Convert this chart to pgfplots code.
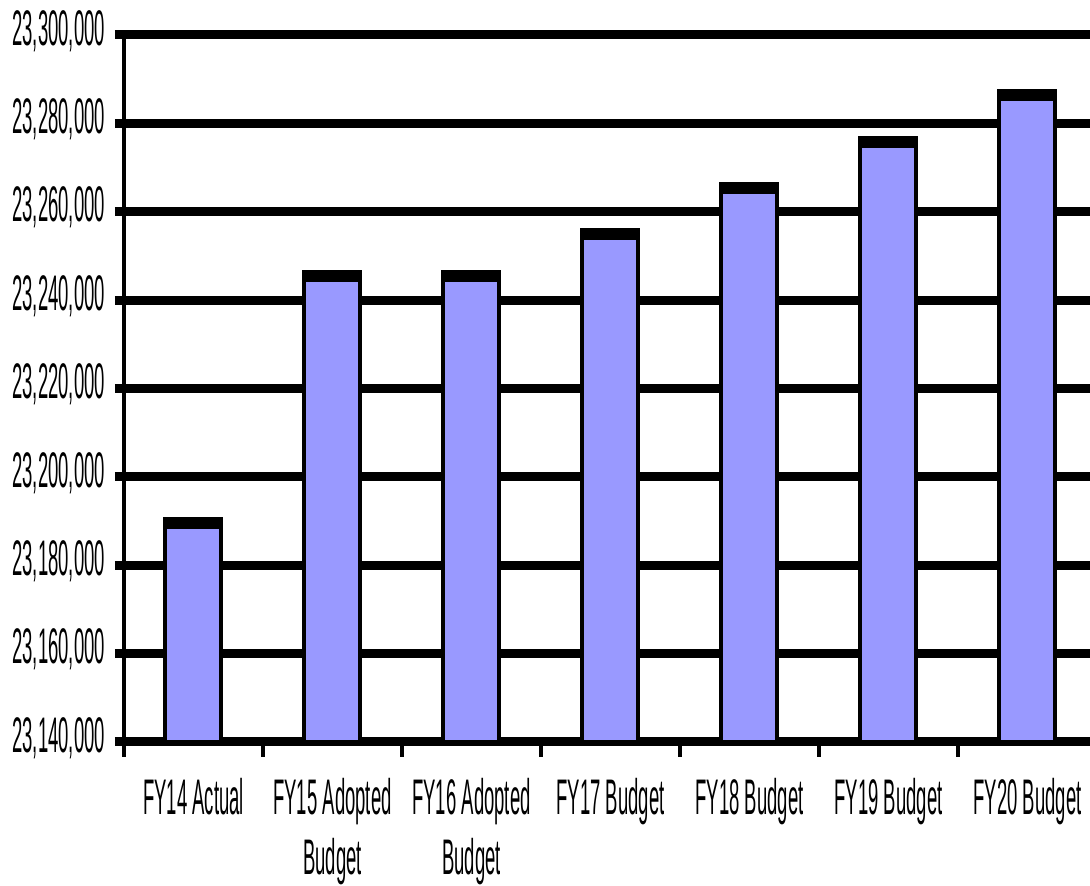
\documentclass[border=0pt]{standalone}
\usepackage{pgfplots}
\pgfplotsset{compat=1.18}
\usepackage{fontspec}
\setmainfont{Liberation Sans}[FakeStretch=0.37]
\definecolor{barfill}{HTML}{9999FF}
\begin{document}
\begin{tikzpicture}
\begin{axis}[
  name=ax,
  width=483pt, height=353.5pt,
  scale only axis,
  xmin=-0.5, xmax=6.45,
  ymin=23140000, ymax=23300000,
  scaled y ticks=false,
  axis lines=left,
  axis line style={-, line width=2pt, black},
  y axis line style={shorten <=-7.5pt},
  xtick={0,1,2,3,4,5,6},
  xticklabels={FY14 Actual, FY15 Adopted\\Budget, FY16 Adopted\\Budget, FY17 Budget, FY18 Budget, FY19 Budget, FY20 Budget},
  xticklabel style={align=center, font=\fontsize{25}{30}\selectfont, yshift=-10pt},
  major x tick style={draw=none},
  minor xtick={-0.5,0.5,1.5,2.5,3.5,4.5,5.5},
  minor x tick style={line width=2pt, black},
  minor tick length=7.5pt,
  ytick={23140000,23160000,23180000,23200000,23220000,23240000,23260000,23280000,23300000},
  yticklabels={{23,140,000},{23,160,000},{23,180,000},{23,200,000},{23,220,000},{23,240,000},{23,260,000},{23,280,000},{23,300,000}},
  yticklabel style={font=\fontsize{25}{27.5}\selectfont, xshift=-1.5pt, yshift=2pt},
  major y tick style={line width=4.5pt, black},
  major tick length=4.5pt,
  tick align=outside,
  ymajorgrids,
  major grid style={line width=4.5pt, black},
  clip=false,
]
\coordinate (bl) at (rel axis cs:0,0);
\coordinate (tr) at (rel axis cs:1,1);
\addplot[ybar, bar width=28pt, bar shift=0pt, fill=barfill, draw=black, line width=2pt]
  coordinates {(0,23190400) (1,23246300) (2,23246300) (3,23255800) (4,23266300) (5,23276800) (6,23287400)};
\addplot[only marks, mark=-, mark size=13pt, mark options={line width=5pt, black, yshift=-2.5pt}]
  coordinates {(0,23190400) (1,23246300) (2,23246300) (3,23255800) (4,23266300) (5,23276800) (6,23287400)};
\end{axis}
\pgfresetboundingbox
\path ([shift={(-62pt,-72pt)}]bl) rectangle ([shift={(0pt,17.5pt)}]tr);
\end{tikzpicture}
\end{document}
